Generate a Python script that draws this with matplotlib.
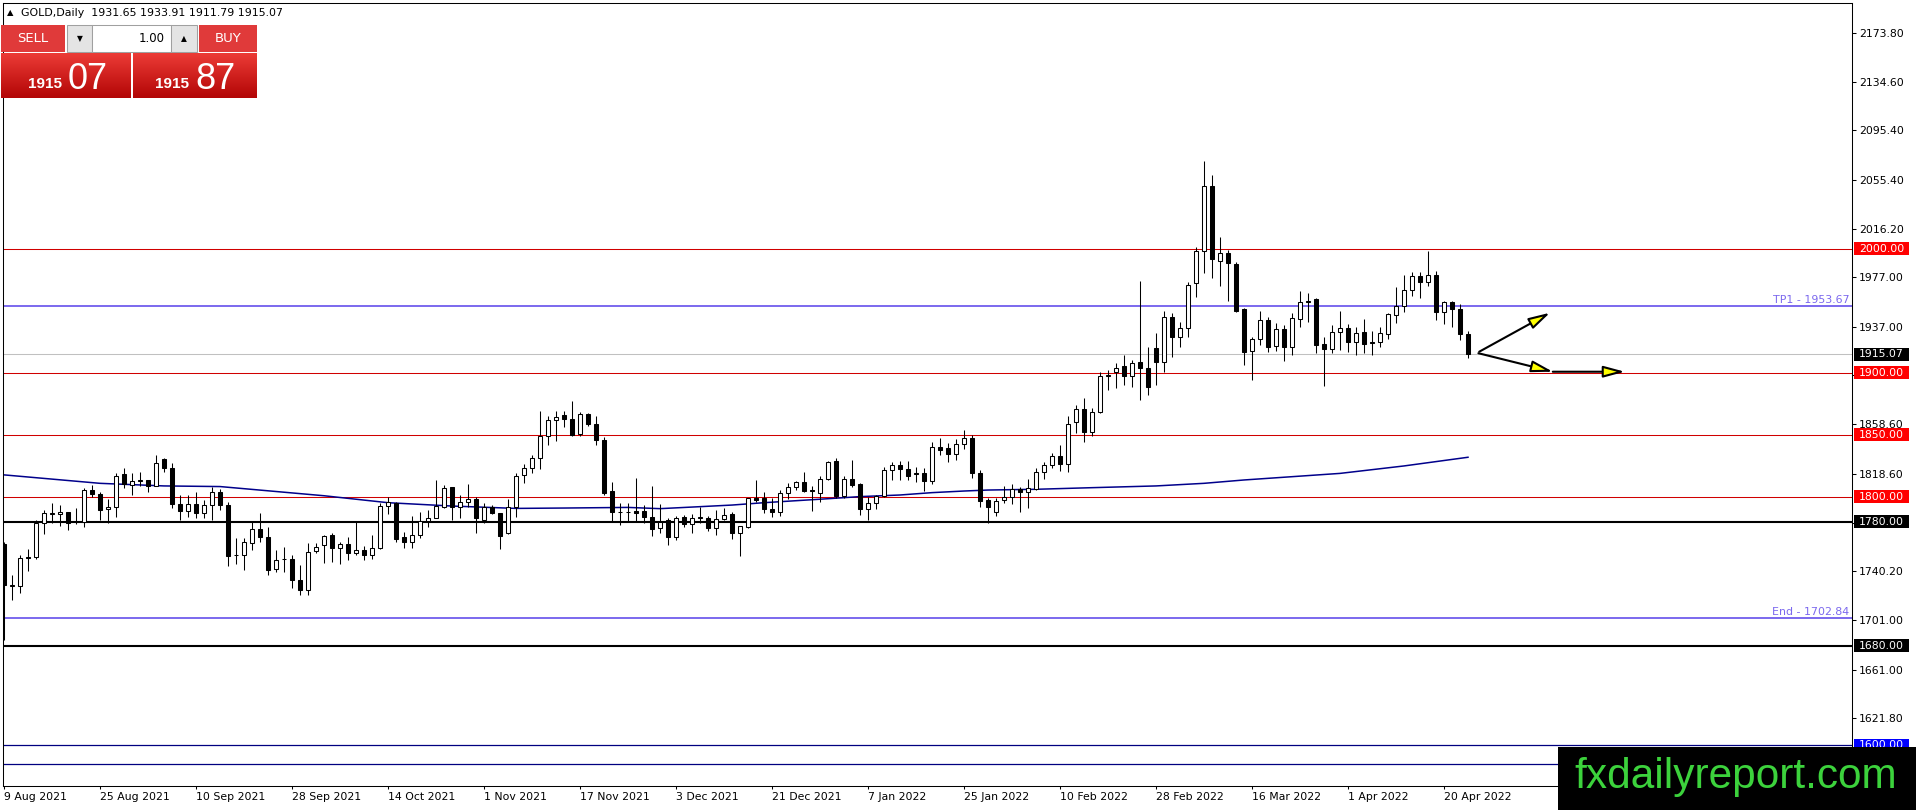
import numpy as np
import matplotlib
matplotlib.use('Agg')
import matplotlib.pyplot as plt
import matplotlib.transforms as mtransforms
from matplotlib.patches import Rectangle, FancyArrowPatch
from matplotlib.colors import LinearSegmentedColormap

# daily GOLD candles, 9 Aug 2021 .. 25 Apr 2022
opens = [1762.5, 1728.4, 1728.6, 1751.8, 1751.8, 1778.7, 1786.5, 1786.0, 1787.9, 1780.1,
         1779.8, 1805.6, 1802.4, 1790.0, 1791.7, 1818.6, 1809.7, 1813.0, 1813.7, 1808.9,
         1830.5, 1823.2, 1794.0, 1788.4, 1794.0, 1787.3, 1793.3, 1803.8, 1793.3, 1753.6,
         1753.6, 1763.3, 1773.9, 1767.7, 1742.3, 1750.3, 1749.9, 1733.4, 1725.3, 1756.3,
         1761.7, 1769.3, 1759.3, 1762.5, 1755.0, 1757.1, 1753.6, 1759.3, 1792.7, 1795.4,
         1767.9, 1763.9, 1769.0, 1780.9, 1782.7, 1792.2, 1807.8, 1792.2, 1796.2, 1798.1,
         1781.4, 1792.2, 1786.8, 1770.6, 1791.6, 1817.8, 1823.7, 1831.3, 1848.8, 1861.7,
         1866.0, 1862.8, 1850.9, 1867.1, 1858.7, 1845.5, 1804.8, 1788.3, 1787.9, 1789.0,
         1788.7, 1783.5, 1774.7, 1781.4, 1768.0, 1783.5, 1777.9, 1783.1, 1782.7, 1774.7,
         1782.5, 1786.0, 1770.6, 1776.0, 1799.4, 1798.9, 1790.3, 1788.1, 1803.0, 1807.8,
         1811.8, 1805.6, 1803.5, 1814.8, 1829.1, 1800.8, 1814.3, 1810.5, 1790.6, 1795.4,
         1800.8, 1821.8, 1825.9, 1822.4, 1819.3, 1819.1, 1813.2, 1840.1, 1839.3, 1834.5,
         1842.6, 1847.4, 1819.1, 1797.6, 1787.6, 1797.6, 1800.3, 1806.2, 1804.3, 1806.4,
         1819.9, 1825.8, 1833.0, 1826.3, 1860.7, 1870.6, 1852.6, 1868.7, 1897.7, 1900.4,
         1905.8, 1897.7, 1908.5, 1903.6, 1919.7, 1908.5, 1944.7, 1928.6, 1935.9, 1972.1,
         1998.1, 2050.5, 1990.4, 1996.3, 1987.4, 1951.4, 1917.9, 1927.0, 1942.6, 1921.9,
         1935.0, 1921.1, 1943.1, 1957.1, 1959.2, 1923.0, 1918.9, 1932.6, 1936.4, 1924.6,
         1932.6, 1924.5, 1924.6, 1931.0, 1946.6, 1954.1, 1966.7, 1978.0, 1973.4, 1978.8,
         1949.3, 1957.3, 1951.4, 1931.65]

highs = [1763.9, 1736.9, 1753.6, 1758.5, 1781.4, 1789.5, 1794.9, 1793.3, 1787.9, 1790.8,
         1807.0, 1809.7, 1804.3, 1798.1, 1819.7, 1823.2, 1819.7, 1820.0, 1813.7, 1833.9,
         1831.0, 1827.2, 1801.6, 1801.6, 1804.3, 1797.6, 1808.3, 1806.5, 1796.2, 1766.6,
         1767.1, 1780.0, 1787.3, 1776.0, 1757.2, 1759.8, 1753.1, 1745.0, 1763.1, 1763.1,
         1769.3, 1770.6, 1763.9, 1767.9, 1780.1, 1760.4, 1769.3, 1794.9, 1799.7, 1796.2,
         1772.0, 1784.6, 1788.1, 1789.5, 1813.7, 1809.7, 1807.8, 1801.6, 1810.2, 1800.3,
         1795.1, 1793.5, 1786.8, 1798.1, 1819.1, 1826.7, 1834.0, 1869.0, 1865.0, 1869.0,
         1869.0, 1877.0, 1868.2, 1868.0, 1865.0, 1848.2, 1812.4, 1795.4, 1794.9, 1815.1,
         1793.5, 1808.9, 1794.0, 1782.7, 1784.6, 1785.4, 1786.2, 1792.2, 1784.6, 1789.5,
         1790.8, 1788.1, 1776.5, 1798.9, 1813.7, 1804.3, 1798.9, 1805.6, 1811.6, 1812.9,
         1820.2, 1808.9, 1817.0, 1828.6, 1831.8, 1817.0, 1829.9, 1811.6, 1799.7, 1801.6,
         1824.0, 1828.0, 1829.1, 1829.1, 1824.5, 1823.2, 1843.9, 1847.4, 1843.4, 1846.6,
         1854.2, 1850.1, 1821.8, 1798.9, 1798.9, 1808.9, 1810.5, 1808.3, 1814.2, 1823.1,
         1828.5, 1835.2, 1841.9, 1865.3, 1874.0, 1879.5, 1871.4, 1900.4, 1902.3, 1907.7,
         1914.4, 1910.4, 1974.0, 1921.1, 1931.8, 1949.8, 1947.9, 1941.2, 1973.4, 2001.6,
         2070.6, 2059.4, 2009.2, 1999.0, 1989.5, 1951.9, 1929.1, 1949.8, 1944.7, 1939.9,
         1938.5, 1948.5, 1965.9, 1964.0, 1960.0, 1928.6, 1938.5, 1949.8, 1939.3, 1936.7,
         1943.4, 1934.0, 1937.2, 1948.5, 1969.4, 1978.8, 1981.5, 1981.0, 1998.1, 1982.3,
         1957.9, 1957.9, 1955.2, 1933.91]

lows = [1684.4, 1717.3, 1722.7, 1740.4, 1750.4, 1770.1, 1779.3, 1776.5, 1773.3, 1777.9,
        1776.0, 1800.3, 1781.4, 1779.3, 1784.1, 1807.0, 1801.6, 1808.9, 1804.3, 1808.5,
        1820.5, 1791.4, 1781.4, 1783.6, 1782.7, 1782.7, 1781.4, 1789.5, 1744.2, 1746.4,
        1741.5, 1757.2, 1763.9, 1736.9, 1739.6, 1739.6, 1726.7, 1720.8, 1721.3, 1755.0,
        1746.9, 1747.7, 1745.8, 1749.0, 1753.1, 1749.6, 1750.4, 1757.7, 1786.2, 1763.9,
        1759.3, 1759.3, 1766.6, 1776.0, 1782.7, 1790.8, 1781.4, 1782.7, 1792.2, 1771.2,
        1778.7, 1786.2, 1758.5, 1770.1, 1784.1, 1811.6, 1819.1, 1822.4, 1842.0, 1844.7,
        1856.3, 1849.3, 1848.8, 1856.9, 1842.0, 1801.6, 1780.9, 1777.4, 1780.9, 1780.9,
        1778.7, 1768.5, 1771.2, 1761.2, 1765.2, 1776.0, 1771.2, 1778.7, 1772.8, 1769.3,
        1781.4, 1765.8, 1752.6, 1774.7, 1796.2, 1786.8, 1784.1, 1784.6, 1798.1, 1805.6,
        1804.3, 1789.0, 1796.2, 1813.7, 1798.9, 1798.9, 1807.8, 1785.4, 1781.4, 1790.0,
        1799.7, 1813.7, 1813.7, 1813.7, 1812.4, 1805.1, 1810.5, 1834.0, 1828.0, 1829.4,
        1838.5, 1815.1, 1791.6, 1779.3, 1785.0, 1794.9, 1794.1, 1788.2, 1791.4, 1805.6,
        1814.5, 1823.1, 1821.2, 1820.4, 1851.3, 1844.0, 1849.4, 1867.4, 1886.2, 1887.5,
        1890.2, 1888.9, 1878.1, 1882.2, 1890.2, 1900.9, 1913.0, 1921.1, 1929.1, 1960.8,
        1980.7, 1976.1, 1970.0, 1958.1, 1949.3, 1906.3, 1894.2, 1922.4, 1917.1, 1917.9,
        1909.8, 1914.4, 1937.2, 1941.2, 1915.7, 1889.7, 1915.7, 1918.4, 1917.1, 1914.4,
        1915.7, 1914.4, 1920.5, 1927.3, 1939.9, 1949.3, 1962.2, 1960.0, 1970.2, 1942.6,
        1939.1, 1936.7, 1926.5, 1911.79]

closes = [1728.8, 1729.0, 1751.2, 1751.2, 1779.3, 1786.8, 1787.0, 1787.9, 1779.3, 1779.6,
          1805.6, 1802.2, 1789.5, 1791.7, 1817.0, 1810.5, 1813.2, 1813.4, 1808.9, 1827.2,
          1823.2, 1794.0, 1788.4, 1794.0, 1787.3, 1793.3, 1804.3, 1793.3, 1752.3, 1753.2,
          1763.6, 1773.9, 1767.9, 1741.2, 1749.6, 1749.9, 1733.4, 1725.3, 1755.8, 1759.8,
          1768.7, 1759.3, 1762.5, 1755.0, 1756.9, 1753.6, 1759.3, 1792.7, 1795.7, 1766.3,
          1763.9, 1769.0, 1780.9, 1783.0, 1793.0, 1807.0, 1792.2, 1796.2, 1798.4, 1782.7,
          1791.6, 1787.3, 1768.7, 1791.6, 1817.2, 1823.7, 1831.3, 1848.8, 1861.7, 1864.4,
          1862.8, 1850.1, 1867.1, 1858.7, 1845.5, 1803.5, 1788.1, 1787.9, 1788.3, 1787.3,
          1784.1, 1773.9, 1780.1, 1768.0, 1782.7, 1777.9, 1783.3, 1783.5, 1774.7, 1782.0,
          1785.7, 1770.6, 1776.5, 1798.9, 1797.6, 1790.0, 1788.1, 1803.0, 1808.3, 1811.8,
          1805.1, 1805.2, 1814.3, 1828.0, 1800.8, 1814.3, 1809.7, 1790.6, 1795.4, 1800.8,
          1821.8, 1825.9, 1822.4, 1817.2, 1818.9, 1813.2, 1840.1, 1838.0, 1834.5, 1842.6,
          1847.4, 1819.1, 1797.0, 1791.7, 1796.7, 1800.3, 1806.2, 1804.3, 1807.0, 1819.9,
          1825.8, 1833.0, 1826.3, 1858.8, 1870.6, 1852.6, 1868.7, 1897.7, 1898.3, 1903.6,
          1897.7, 1908.2, 1903.6, 1888.9, 1908.5, 1944.7, 1928.6, 1935.9, 1970.8, 1998.1,
          2050.5, 1991.4, 1996.3, 1988.2, 1950.1, 1917.1, 1927.0, 1942.6, 1921.1, 1935.0,
          1921.1, 1943.9, 1957.3, 1957.9, 1922.2, 1918.9, 1932.6, 1936.4, 1924.6, 1931.8,
          1923.0, 1924.1, 1931.8, 1947.4, 1954.1, 1966.7, 1978.0, 1972.9, 1978.8, 1949.3,
          1957.3, 1951.4, 1931.0, 1915.07]

# moving average line (bar index, value)
ma_bars = [0, 12, 20, 27, 40, 48, 56, 64, 70, 78, 82, 87, 91, 95, 99, 103, 107, 112,
           116, 120, 123, 129, 136, 144, 150, 155, 167, 175, 183]
ma_vals = [1817.8, 1811.0, 1808.9, 1808.4, 1801.0, 1795.4, 1792.7, 1790.8, 1791.1, 1791.6,
           1790.6, 1792.2, 1793.5, 1795.4, 1797.0, 1798.6, 1800.3, 1801.6, 1803.5, 1804.8,
           1805.6, 1806.2, 1807.5, 1808.9, 1811.0, 1813.7, 1819.0, 1825.0, 1832.0]

date_labels = ['9 Aug 2021', '25 Aug 2021', '10 Sep 2021', '28 Sep 2021', '14 Oct 2021',
               '1 Nov 2021', '17 Nov 2021', '3 Dec 2021', '21 Dec 2021', '7 Jan 2022',
               '25 Jan 2022', '10 Feb 2022', '28 Feb 2022', '16 Mar 2022', '1 Apr 2022',
               '20 Apr 2022']
price_ticks = [2173.80, 2134.60, 2095.40, 2055.40, 2016.20, 1977.00, 1937.00, 1898.60,
               1858.60, 1818.60, 1779.40, 1740.20, 1701.00, 1661.00, 1621.80, 1582.60]

red_levels = [2000.00, 1900.00, 1850.00, 1800.00]
black_levels = [1780.00, 1680.00]
blue_levels = [1600.00, 1585.0]
tp1 = 1953.67
end_level = 1702.84
last_price = 1915.07

# projection arrows (bar, price)
arrows = [((184.4, 1917.0), (193.25, 1948.4)),
          ((184.3, 1915.8), (193.6, 1900.9)),
          ((193.6, 1900.9), (202.6, 1900.9))]

W, H = 1916, 810
fig = plt.figure(figsize=(W / 100, H / 100), dpi=100)
fig.patch.set_facecolor('white')


def fx(px):
    return px / W


def fy(py):
    return 1 - py / H


def px_rect(x0, y0, x1, y1, **kw):
    r = Rectangle((fx(x0), fy(y1)), fx(x1) - fx(x0), fy(y0) - fy(y1),
                  transform=fig.transFigure, **kw)
    fig.add_artist(r)
    return r


ax = fig.add_axes([fx(3), fy(786), fx(1852) - fx(3), fy(3) - fy(786)])
ax.set_xlim(-0.125, 231)
ax.set_ylim(1567.2, 2197.9)
units_per_px = (2197.9 - 1567.2) / 783.0

o = np.array(opens)
h = np.array(highs)
l = np.array(lows)
c = np.array(closes)
x = np.arange(len(o))
up = c >= o
lo = np.minimum(o, c)
bh = np.maximum(np.abs(c - o), 0.3)

# level lines
for v in red_levels:
    ax.axhline(v, color='#d00000', lw=0.75, zorder=1)
for v in black_levels:
    ax.axhline(v, color='black', lw=1.5, zorder=1)
for v in blue_levels:
    ax.axhline(v, color='#000080', lw=0.9, zorder=1)
ax.axhline(tp1, color='#7b68ee', lw=1.4, zorder=1)
ax.axhline(end_level, color='#7b68ee', lw=1.4, zorder=1)
ax.axhline(last_price, color='#c0c0c0', lw=0.75, zorder=1)

ax.plot(ma_bars, ma_vals, color='#00008b', lw=1.1, zorder=2)

# candles
ax.vlines(x, l, h, color='black', lw=0.75, zorder=3)
ax.bar(x[up], bh[up], bottom=lo[up], width=0.6, color='white', edgecolor='black',
       linewidth=0.75, zorder=4)
ax.bar(x[~up], bh[~up], bottom=lo[~up], width=0.6, color='black', edgecolor='black',
       linewidth=0.75, zorder=4)

for (p0, p1) in arrows:
    ax.add_patch(FancyArrowPatch(p0, p1, arrowstyle='-|>,head_length=1.3,head_width=0.35',
                                 mutation_scale=10, fc='yellow', ec='black', lw=1.5,
                                 shrinkA=0, shrinkB=0, zorder=6))

lbl = mtransforms.blended_transform_factory(ax.transAxes, ax.transData)
ax.text(0.9985, tp1 + 0.8, 'TP1 - 1953.67', transform=lbl, ha='right', va='bottom',
        color='#7b68ee', fontsize=7.9)
ax.text(0.9985, end_level + 0.8, 'End - 1702.84', transform=lbl, ha='right', va='bottom',
        color='#7b68ee', fontsize=7.9)

# axes
for s in ax.spines.values():
    s.set_color('black')
    s.set_linewidth(0.75)
ax.yaxis.tick_right()
ax.set_yticks(price_ticks)
ax.set_yticklabels([f'{v:.2f}' for v in price_ticks])
ax.tick_params(axis='y', length=3, width=0.75, pad=2.2, labelsize=7.8, colors='black')
ax.set_xticks(np.arange(len(date_labels)) * 12)
ax.set_xticklabels(date_labels)
ax.tick_params(axis='x', length=2.5, width=0.75, pad=1.5, labelsize=7.8)
for t in ax.get_xticklabels():
    t.set_ha('left')

# price boxes on the right scale
side = mtransforms.blended_transform_factory(fig.transFigure, ax.transData)
half = 6.5 * units_per_px
box_items = [(v, '#ff0000') for v in red_levels] + [(last_price, 'black')] + \
            [(v, 'black') for v in black_levels] + [(blue_levels[0], '#0000ff')]
for v, col in box_items:
    ax.add_patch(Rectangle((fx(1854), v - half), fx(1909) - fx(1854), 2 * half,
                           transform=side, fc=col, ec='none', clip_on=False, zorder=10))
    ax.text(fx(1859), v, f'{v:.2f}', transform=side, color='white', fontsize=7.8,
            ha='left', va='center', clip_on=False, zorder=11)

# header and one-click panel
fig.text(fx(7), fy(13), '\u25b2', fontsize=6, va='center', ha='left')
fig.text(fx(21), fy(13), 'GOLD,Daily  1931.65 1933.91 1911.79 1915.07', fontsize=7.9,
         va='center', ha='left')

btn_red = '#e03a3a'
px_rect(1, 25, 65, 52, fc=btn_red, ec='none', zorder=5)
px_rect(199, 25, 257, 52, fc=btn_red, ec='none', zorder=5)
px_rect(67, 25, 92, 52, fc='#e4e4e4', ec='#a0a0a0', lw=0.75, zorder=5)
px_rect(92, 25, 171, 52, fc='white', ec='#a0a0a0', lw=0.75, zorder=5)
px_rect(171, 25, 197, 52, fc='#e4e4e4', ec='#a0a0a0', lw=0.75, zorder=5)
fig.text(fx(33), fy(38.5), 'SELL', color='white', fontsize=9.5, ha='center', va='center', zorder=6)
fig.text(fx(228), fy(38.5), 'BUY', color='white', fontsize=9.5, ha='center', va='center', zorder=6)
fig.text(fx(79.5), fy(38.5), '\u25bc', fontsize=5.5, ha='center', va='center', zorder=6)
fig.text(fx(184), fy(38.5), '\u25b2', fontsize=5.5, ha='center', va='center', zorder=6)
fig.text(fx(165), fy(38.5), '1.00', fontsize=8.5, ha='right', va='center', zorder=6)

grad = LinearSegmentedColormap.from_list('mtred', ['#ec3b36', '#b30606'])
for bx0, bx1 in [(1, 131), (133, 257)]:
    bax = fig.add_axes([fx(bx0), fy(98), fx(bx1) - fx(bx0), fy(53) - fy(98)], zorder=5)
    bax.imshow(np.linspace(0, 1, 50).reshape(-1, 1), aspect='auto', cmap=grad)
    bax.set_axis_off()

for left_small, left_big, big in [(28, 68, '07'), (155, 195, '87')]:
    fig.text(fx(left_small), fy(88), '1915', color='white', fontsize=11, fontweight='bold',
             family='Liberation Sans', ha='left', va='baseline', zorder=7)
    fig.text(fx(left_big), fy(89), big, color='white', fontsize=26,
             family='Liberation Sans', ha='left', va='baseline', zorder=7)

# watermark
px_rect(1558, 747, 1916, 810, fc='black', ec='none', zorder=20)
fig.text(fx(1736), fy(788), 'fxdailyreport.com', color='#3cd23c', fontsize=30.5,
         family='Liberation Sans', ha='center', va='baseline', zorder=21)

fig.savefig('out.png', dpi=100)
